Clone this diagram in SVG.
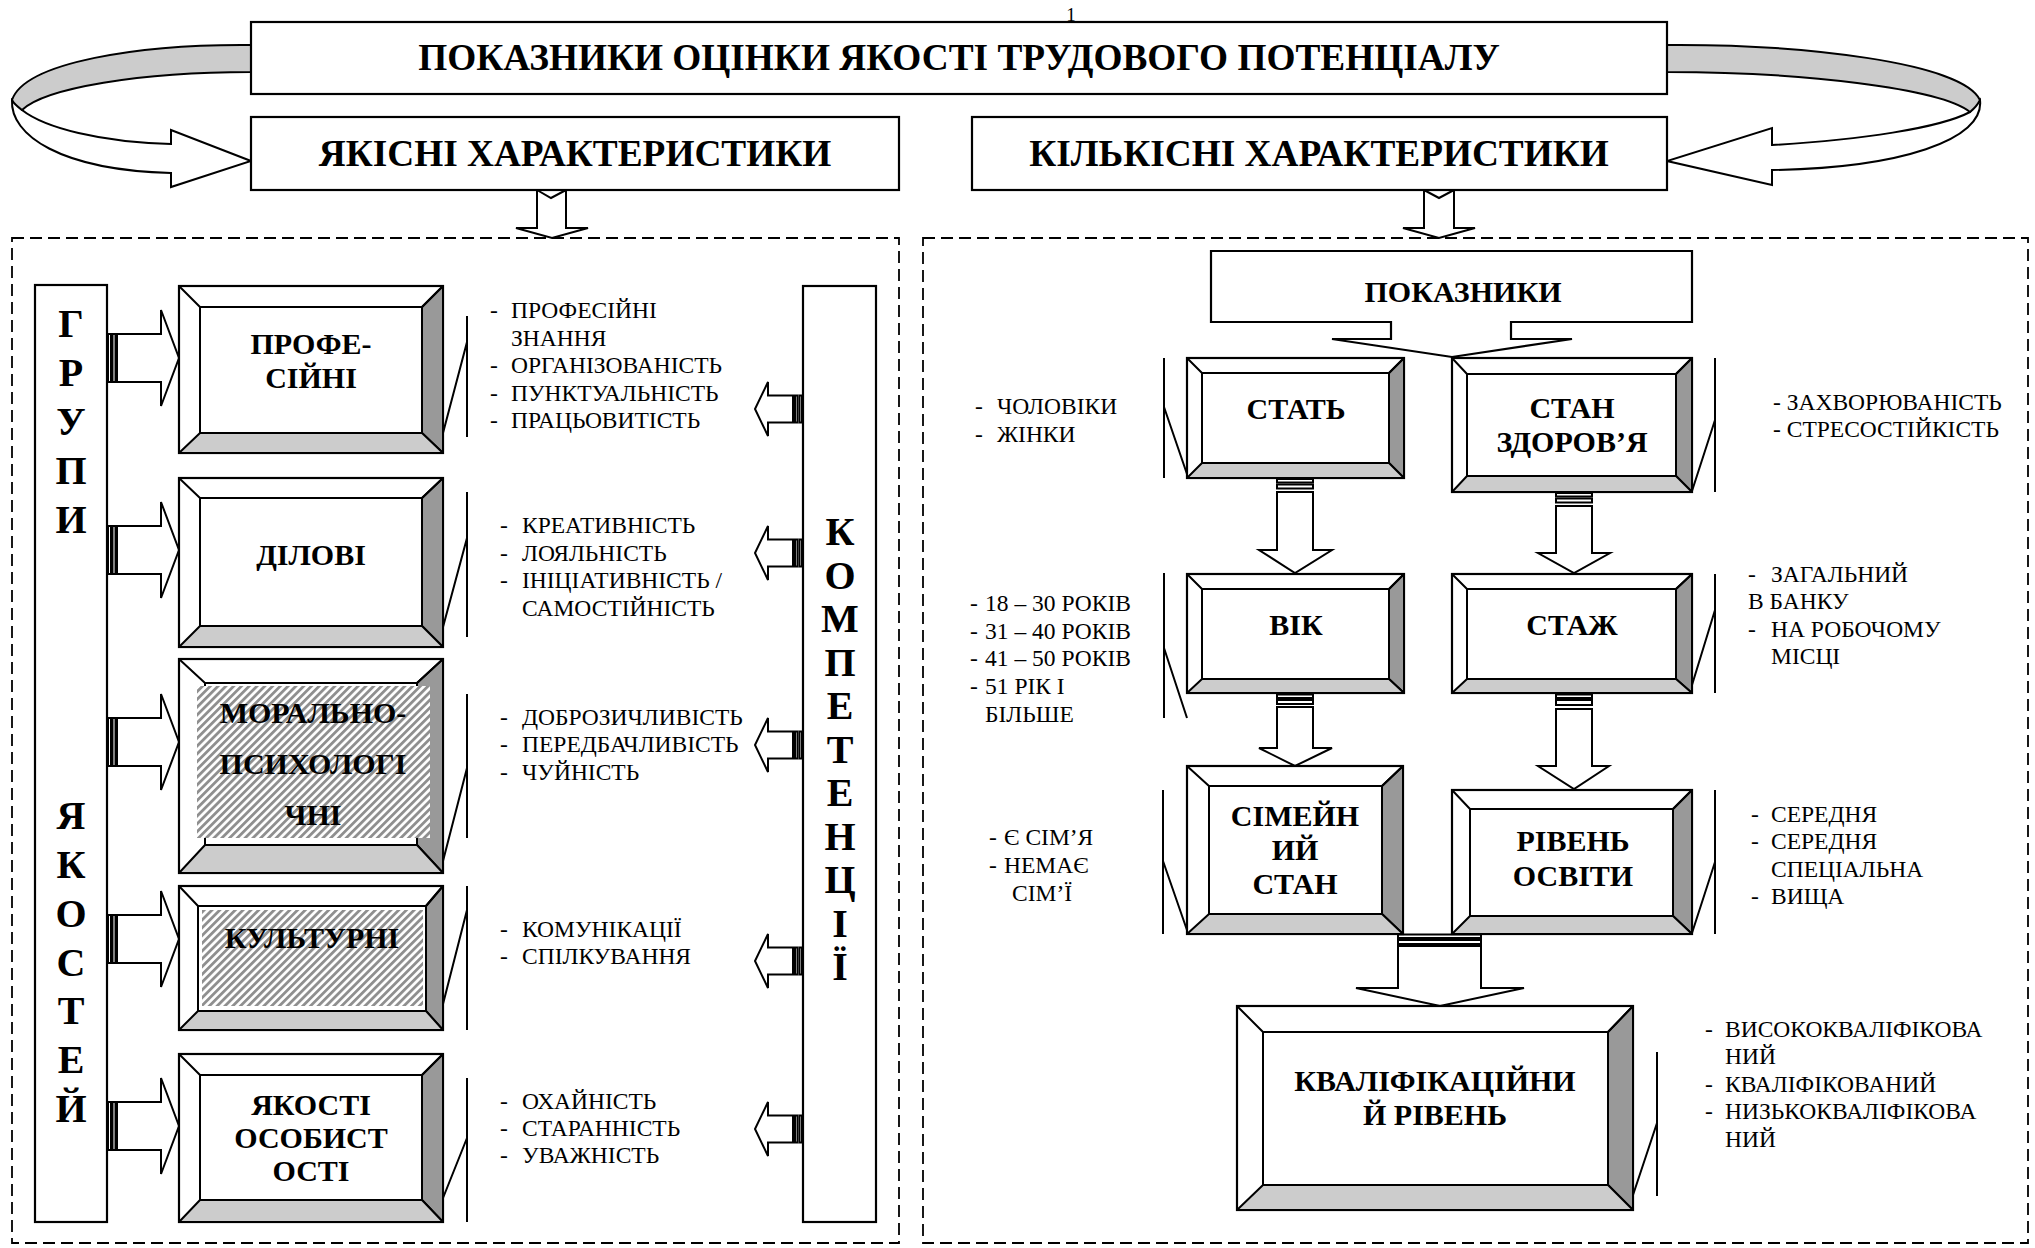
<svg xmlns="http://www.w3.org/2000/svg" width="2035" height="1248" viewBox="0 0 2035 1248">
<defs>
<style>
.box{fill:#fff;stroke:#000;stroke-width:2.2}
.inr{fill:none;stroke:#000;stroke-width:2}
.inw{fill:#fff;stroke:#000;stroke-width:2}
.bvr{fill:#999;stroke:#000;stroke-width:2;stroke-linejoin:round}
.bvb{fill:#ccc;stroke:#000;stroke-width:2;stroke-linejoin:round}
.ln{fill:none;stroke:#000;stroke-width:2}
.arr{fill:#fff;stroke:#000;stroke-width:2}
.rib{fill:#ccc;stroke:#000;stroke-width:2}
.dash{fill:none;stroke:#000;stroke-width:1.8;stroke-dasharray:12 6}
.hat{fill:url(#hatch)}
.h{font-family:"Liberation Serif","Times New Roman",serif;font-weight:bold;font-size:37.3px;text-anchor:middle}
.n{font-family:"Liberation Serif","Times New Roman",serif;font-weight:bold;font-size:30px;text-anchor:middle}
.v{font-family:"Liberation Serif","Times New Roman",serif;font-weight:bold;font-size:40px;text-anchor:middle}
.t{font-family:"Liberation Serif","Times New Roman",serif;font-size:23.5px}
</style>
<pattern id="hatch" width="5.5" height="5.5" patternUnits="userSpaceOnUse" patternTransform="rotate(45)">
<rect width="5.5" height="5.5" fill="#fff"/>
<rect width="2.8" height="5.5" fill="#8f8f8f"/>
</pattern>
</defs>
<rect width="2035" height="1248" fill="#fff"/>

<text x="1071" y="21" font-family="Liberation Serif, serif" font-size="19" text-anchor="middle">1</text>

<!-- panels -->
<rect class="dash" x="12" y="238" width="887" height="1005"/>
<rect class="dash" x="923" y="238" width="1105" height="1005"/>

<g id="connectors">
<!-- left ribbon -->
<path class="arr" d="M12,100 C10,135 60,170 171,173 L171,187 L251,161 L171,130 L171,144 C100,142 45,128 22,110 Z"/>
<path class="rib" d="M251,45 C140,44 25,62 12,100 C14,104 18,107 22,110 C45,88 140,72 251,72 Z"/>
<!-- right ribbon -->
<path class="arr" d="M1980,100 C1985,140 1900,168 1772,170 L1772,185 L1667,161 L1772,128 L1772,145 C1860,140 1940,128 1970,112 Z"/>
<path class="rib" d="M1667,45 C1800,44 1962,62 1980,100 C1978,104 1975,108 1970,112 C1940,88 1800,72 1667,72 Z"/>
<!-- top down arrows -->
<polygon class="arr" points="537,190 551,198 566,190 566,228 588,228 552,238 516,228 537,228"/>
<polygon class="arr" points="1424,190 1439,198 1454,190 1454,228 1475,228 1439,238 1403,228 1424,228"/>

<!-- ГРУПИ -> nodes -->
<g id="ga1"><rect class="arr" x="108" y="334" width="3" height="48"/><rect class="arr" x="112.5" y="334" width="3" height="48"/><polygon class="arr" points="117,334 161,334 161,310 179,358 161,406 161,382 117,382"/></g>
<g id="ga2"><rect class="arr" x="108" y="526" width="3" height="48"/><rect class="arr" x="112.5" y="526" width="3" height="48"/><polygon class="arr" points="117,526 161,526 161,502 179,550 161,598 161,574 117,574"/></g>
<g id="ga3"><rect class="arr" x="108" y="718" width="3" height="48"/><rect class="arr" x="112.5" y="718" width="3" height="48"/><polygon class="arr" points="117,718 161,718 161,694 179,742 161,790 161,766 117,766"/></g>
<g id="ga4"><rect class="arr" x="108" y="915" width="3" height="48"/><rect class="arr" x="112.5" y="915" width="3" height="48"/><polygon class="arr" points="117,915 161,915 161,891 179,939 161,987 161,963 117,963"/></g>
<g id="ga5"><rect class="arr" x="108" y="1102" width="3" height="48"/><rect class="arr" x="112.5" y="1102" width="3" height="48"/><polygon class="arr" points="117,1102 161,1102 161,1078 179,1126 161,1174 161,1150 117,1150"/></g>

<!-- КОМПЕТЕНЦІЇ -> lists -->
<g id="ka1"><rect class="arr" x="795" y="395.5" width="2.5" height="27"/><rect class="arr" x="799.5" y="395.5" width="2.5" height="27"/><polygon class="arr" points="793,395.5 768,395.5 768,382 755,409 768,436 768,422.5 793,422.5"/></g>
<g id="ka2"><rect class="arr" x="795" y="539.5" width="2.5" height="27"/><rect class="arr" x="799.5" y="539.5" width="2.5" height="27"/><polygon class="arr" points="793,539.5 768,539.5 768,526 755,553 768,580 768,566.5 793,566.5"/></g>
<g id="ka3"><rect class="arr" x="795" y="731.5" width="2.5" height="27"/><rect class="arr" x="799.5" y="731.5" width="2.5" height="27"/><polygon class="arr" points="793,731.5 768,731.5 768,718 755,745 768,772 768,758.5 793,758.5"/></g>
<g id="ka4"><rect class="arr" x="795" y="947.5" width="2.5" height="27"/><rect class="arr" x="799.5" y="947.5" width="2.5" height="27"/><polygon class="arr" points="793,947.5 768,947.5 768,934 755,961 768,988 768,974.5 793,974.5"/></g>
<g id="ka5"><rect class="arr" x="795" y="1115.5" width="2.5" height="27"/><rect class="arr" x="799.5" y="1115.5" width="2.5" height="27"/><polygon class="arr" points="793,1115.5 768,1115.5 768,1102 755,1129 768,1156 768,1142.5 793,1142.5"/></g>

<!-- right panel down arrows -->
<g id="da1"><rect class="arr" x="1277" y="479" width="36" height="3.5"/><rect class="arr" x="1277" y="484.5" width="36" height="4"/><polygon class="arr" points="1277,492 1313,492 1313,550 1332,550 1295,573 1259,550 1277,550"/></g>
<g id="da2"><rect class="arr" x="1556" y="493" width="36" height="3.5"/><rect class="arr" x="1556" y="498.5" width="36" height="4"/><polygon class="arr" points="1556,506 1592,506 1592,553 1610,553 1574,573 1538,553 1556,553"/></g>
<g id="da3"><rect class="arr" x="1277" y="694.5" width="36" height="3.5"/><rect class="arr" x="1277" y="700" width="36" height="4"/><polygon class="arr" points="1277,707 1313,707 1313,748 1332,748 1295,766 1259,748 1277,748"/></g>
<g id="da4"><rect class="arr" x="1556" y="694.5" width="36" height="3.5"/><rect class="arr" x="1556" y="700" width="36" height="5"/><polygon class="arr" points="1556,709 1592,709 1592,766 1609,766 1574,789 1538,766 1556,766"/></g>
<g id="da5"><rect class="arr" x="1398" y="934.5" width="83" height="3.5"/><rect class="arr" x="1398" y="940" width="83" height="4"/><polygon class="arr" points="1398,946 1481,946 1481,988 1524,988 1440,1006 1356,988 1398,988"/></g>

<!-- brackets -->
<path class="ln" d="M467,316 V437 M443,433 L467,342"/>
<path class="ln" d="M467,492 V637 M443,627 L467,538"/>
<path class="ln" d="M467,694 V838 M443,861 L467,768"/>
<path class="ln" d="M467,886 V1030 M443,1004 L467,910"/>
<path class="ln" d="M467,1078 V1222 M443,1198 L467,1138"/>
<path class="ln" d="M1164,358 V478 M1164,407 L1188,477"/>
<path class="ln" d="M1164,573 V718 M1164,648 L1187,718"/>
<path class="ln" d="M1163,790 V934 M1163,861 L1188,933"/>
<path class="ln" d="M1715,358 V492 M1715,420 L1692,491"/>
<path class="ln" d="M1715,574 V693 M1715,610 L1692,685"/>
<path class="ln" d="M1715,790 V934 M1715,862 L1692,933"/>
<path class="ln" d="M1657,1052 V1196 M1657,1123 L1633,1195"/>
</g>

<!-- header nodes -->
<g id="title"><rect class="box" x="251" y="22" width="1416" height="72"/><text class="h" x="959" y="70">ПОКАЗНИКИ ОЦІНКИ ЯКОСТІ ТРУДОВОГО ПОТЕНЦІАЛУ</text></g>
<g id="qual"><rect class="box" x="251" y="117" width="648" height="73"/><text class="h" x="575" y="166">ЯКІСНІ ХАРАКТЕРИСТИКИ</text></g>
<g id="quant"><rect class="box" x="972" y="117" width="695" height="73"/><text class="h" x="1319" y="166">КІЛЬКІСНІ ХАРАКТЕРИСТИКИ</text></g>

<!-- vertical boxes -->
<g id="groups"><rect class="box" x="35" y="285" width="72" height="937"/>
<text class="v" x="71" y="337">Г</text><text class="v" x="71" y="386">Р</text><text class="v" x="71" y="435">У</text><text class="v" x="71" y="484">П</text><text class="v" x="71" y="533">И</text>
<text class="v" x="71" y="829">Я</text><text class="v" x="71" y="878">К</text><text class="v" x="71" y="927">О</text><text class="v" x="71" y="976">С</text><text class="v" x="71" y="1024">Т</text><text class="v" x="71" y="1073">Е</text><text class="v" x="71" y="1122">Й</text>
</g>
<g id="competencies"><rect class="box" x="803" y="286" width="73" height="936"/>
<text class="v" x="840" y="545" font-size="38">К</text><text class="v" x="840" y="588.5" font-size="38">О</text><text class="v" x="840" y="632" font-size="38">М</text><text class="v" x="840" y="675.5" font-size="38">П</text><text class="v" x="840" y="719" font-size="38">Е</text><text class="v" x="840" y="762.5" font-size="38">Т</text><text class="v" x="840" y="806" font-size="38">Е</text><text class="v" x="840" y="849.5" font-size="38">Н</text><text class="v" x="840" y="893" font-size="38">Ц</text><text class="v" x="840" y="936.5" font-size="38">І</text><text class="v" x="840" y="980" font-size="38">Ї</text>
</g>

<!-- left nodes -->
<g id="prof">
<rect class="box" x="179" y="286" width="264" height="167"/>
<polygon class="bvr" points="443,286 443,453 422,433 422,307"/>
<polygon class="bvb" points="179,453 443,453 422,433 200,433"/>
<path class="ln" d="M179,286 L200,307 M443,286 L422,307"/>
<rect class="inr" x="200" y="307" width="222" height="126"/>
<text class="n" x="311" y="354">ПРОФЕ-</text><text class="n" x="311" y="388">СІЙНІ</text>
</g>
<g id="dilovi">
<rect class="box" x="179" y="478" width="264" height="169"/>
<polygon class="bvr" points="443,478 443,647 422,626 422,498"/>
<polygon class="bvb" points="179,647 443,647 422,626 200,626"/>
<path class="ln" d="M179,478 L200,498 M443,478 L422,498"/>
<rect class="inr" x="200" y="498" width="222" height="128"/>
<text class="n" x="311" y="565">ДІЛОВІ</text>
</g>
<g id="moral">
<rect class="box" x="179" y="659" width="264" height="214"/>
<polygon class="bvr" points="443,659 443,873 417,845 417,683"/>
<polygon class="bvb" points="179,873 443,873 417,845 205,845"/>
<path class="ln" d="M179,659 L205,683 M443,659 L417,683"/>
<rect class="inw" x="205" y="683" width="212" height="162"/>
<rect class="hat" x="197" y="686" width="233" height="152"/>
<text class="n" x="313" y="723">МОРАЛЬНО-</text><text class="n" x="313" y="774">ПСИХОЛОГІ</text><text class="n" x="313" y="825">ЧНІ</text>
</g>
<g id="cult">
<rect class="box" x="179" y="886" width="264" height="144"/>
<polygon class="bvr" points="443,886 443,1030 426,1011 426,906"/>
<polygon class="bvb" points="179,1030 443,1030 426,1011 198,1011"/>
<path class="ln" d="M179,886 L198,906 M443,886 L426,906"/>
<rect class="inw" x="198" y="906" width="228" height="105"/>
<rect class="hat" x="202" y="910" width="221" height="96"/>
<text class="n" x="312" y="948">КУЛЬТУРНІ</text>
</g>
<g id="personal">
<rect class="box" x="179" y="1054" width="264" height="168"/>
<polygon class="bvr" points="443,1054 443,1222 422,1200 422,1075"/>
<polygon class="bvb" points="179,1222 443,1222 422,1200 200,1200"/>
<path class="ln" d="M179,1054 L200,1075 M443,1054 L422,1075"/>
<rect class="inr" x="200" y="1075" width="222" height="125"/>
<text class="n" x="311" y="1115">ЯКОСТІ</text><text class="n" x="311" y="1148">ОСОБИСТ</text><text class="n" x="311" y="1181">ОСТІ</text>
</g>

<!-- left lists -->
<g id="list-prof" class="t">
<text x="490" y="318">-</text><text x="511" y="318">ПРОФЕСІЙНІ</text>
<text x="511" y="346">ЗНАННЯ</text>
<text x="490" y="373">-</text><text x="511" y="373">ОРГАНІЗОВАНІСТЬ</text>
<text x="490" y="401">-</text><text x="511" y="401">ПУНКТУАЛЬНІСТЬ</text>
<text x="490" y="428">-</text><text x="511" y="428">ПРАЦЬОВИТІСТЬ</text>
</g>
<g id="list-dil" class="t">
<text x="500" y="533">-</text><text x="522" y="533">КРЕАТИВНІСТЬ</text>
<text x="500" y="561">-</text><text x="522" y="561">ЛОЯЛЬНІСТЬ</text>
<text x="500" y="588">-</text><text x="522" y="588">ІНІЦІАТИВНІСТЬ /</text>
<text x="522" y="616">САМОСТІЙНІСТЬ</text>
</g>
<g id="list-moral" class="t">
<text x="500" y="725">-</text><text x="522" y="725">ДОБРОЗИЧЛИВІСТЬ</text>
<text x="500" y="752">-</text><text x="522" y="752">ПЕРЕДБАЧЛИВІСТЬ</text>
<text x="500" y="780">-</text><text x="522" y="780">ЧУЙНІСТЬ</text>
</g>
<g id="list-cult" class="t">
<text x="500" y="937">-</text><text x="522" y="937">КОМУНІКАЦІЇ</text>
<text x="500" y="964">-</text><text x="522" y="964">СПІЛКУВАННЯ</text>
</g>
<g id="list-pers" class="t">
<text x="500" y="1109">-</text><text x="522" y="1109">ОХАЙНІСТЬ</text>
<text x="500" y="1136">-</text><text x="522" y="1136">СТАРАННІСТЬ</text>
<text x="500" y="1163">-</text><text x="522" y="1163">УВАЖНІСТЬ</text>
</g>

<!-- right nodes -->
<g id="indicators">
<path class="box" d="M1211,251 H1692 V322 H1511 V339 H1572 L1452,357 L1332,339 H1391 V322 H1211 Z"/>
<text class="n" x="1463" y="302" font-size="34">ПОКАЗНИКИ</text>
</g>
<g id="sex">
<rect class="box" x="1187" y="358" width="217" height="120"/>
<polygon class="bvr" points="1404,358 1404,478 1389,463 1389,373"/>
<polygon class="bvb" points="1187,478 1404,478 1389,463 1202,463"/>
<path class="ln" d="M1187,358 L1202,373 M1404,358 L1389,373"/>
<rect class="inr" x="1202" y="373" width="187" height="90"/>
<text class="n" x="1296" y="419">СТАТЬ</text>
</g>
<g id="health">
<rect class="box" x="1452" y="358" width="240" height="134"/>
<polygon class="bvr" points="1692,358 1692,492 1676,476 1676,374"/>
<polygon class="bvb" points="1452,492 1692,492 1676,476 1467,476"/>
<path class="ln" d="M1452,358 L1467,374 M1692,358 L1676,374"/>
<rect class="inr" x="1467" y="374" width="209" height="102"/>
<text class="n" x="1572" y="418">СТАН</text><text class="n" x="1572" y="452">ЗДОРОВ’Я</text>
</g>
<g id="age">
<rect class="box" x="1187" y="574" width="217" height="119"/>
<polygon class="bvr" points="1404,574 1404,693 1389,679 1389,589"/>
<polygon class="bvb" points="1187,693 1404,693 1389,679 1202,679"/>
<path class="ln" d="M1187,574 L1202,589 M1404,574 L1389,589"/>
<rect class="inr" x="1202" y="589" width="187" height="90"/>
<text class="n" x="1296" y="635">ВІК</text>
</g>
<g id="tenure">
<rect class="box" x="1452" y="574" width="240" height="119"/>
<polygon class="bvr" points="1692,574 1692,693 1676,679 1676,589"/>
<polygon class="bvb" points="1452,693 1692,693 1676,679 1467,679"/>
<path class="ln" d="M1452,574 L1467,589 M1692,574 L1676,589"/>
<rect class="inr" x="1467" y="589" width="209" height="90"/>
<text class="n" x="1572" y="635">СТАЖ</text>
</g>
<g id="family">
<rect class="box" x="1187" y="766" width="216" height="168"/>
<polygon class="bvr" points="1403,766 1403,934 1382,914 1382,786"/>
<polygon class="bvb" points="1187,934 1403,934 1382,914 1209,914"/>
<path class="ln" d="M1187,766 L1209,786 M1403,766 L1382,786"/>
<rect class="inr" x="1209" y="786" width="173" height="128"/>
<text class="n" x="1295" y="826">СІМЕЙН</text><text class="n" x="1295" y="860">ИЙ</text><text class="n" x="1295" y="894">СТАН</text>
</g>
<g id="education">
<rect class="box" x="1452" y="790" width="240" height="144"/>
<polygon class="bvr" points="1692,790 1692,934 1673,916 1673,809"/>
<polygon class="bvb" points="1452,934 1692,934 1673,916 1470,916"/>
<path class="ln" d="M1452,790 L1470,809 M1692,790 L1673,809"/>
<rect class="inr" x="1470" y="809" width="203" height="107"/>
<text class="n" x="1573" y="851">РІВЕНЬ</text><text class="n" x="1573" y="886">ОСВІТИ</text>
</g>
<g id="qualification">
<rect class="box" x="1237" y="1006" width="396" height="204"/>
<polygon class="bvr" points="1633,1006 1633,1210 1608,1185 1608,1032"/>
<polygon class="bvb" points="1237,1210 1633,1210 1608,1185 1263,1185"/>
<path class="ln" d="M1237,1006 L1263,1032 M1633,1006 L1608,1032"/>
<rect class="inr" x="1263" y="1032" width="345" height="153"/>
<text class="n" x="1435" y="1091">КВАЛІФІКАЦІЙНИ</text><text class="n" x="1435" y="1125">Й РІВЕНЬ</text>
</g>

<!-- right lists -->
<g id="list-sex" class="t">
<text x="975" y="414">-</text><text x="997" y="414">ЧОЛОВІКИ</text>
<text x="975" y="442">-</text><text x="997" y="442">ЖІНКИ</text>
</g>
<g id="list-age" class="t">
<text x="970" y="611">-</text><text x="985" y="611">18 – 30 РОКІВ</text>
<text x="970" y="639">-</text><text x="985" y="639">31 – 40 РОКІВ</text>
<text x="970" y="666">-</text><text x="985" y="666">41 – 50 РОКІВ</text>
<text x="970" y="694">-</text><text x="985" y="694">51 РІК І</text>
<text x="985" y="722">БІЛЬШЕ</text>
</g>
<g id="list-family" class="t">
<text x="989" y="845">-</text><text x="1004" y="845">Є СІМ’Я</text>
<text x="989" y="873">-</text><text x="1004" y="873">НЕМАЄ</text>
<text x="1012" y="901">СІМ’Ї</text>
</g>
<g id="list-health" class="t">
<text x="1773" y="410">- ЗАХВОРЮВАНІСТЬ</text>
<text x="1773" y="437">- СТРЕСОСТІЙКІСТЬ</text>
</g>
<g id="list-tenure" class="t">
<text x="1748" y="582">-</text><text x="1771" y="582">ЗАГАЛЬНИЙ</text>
<text x="1748" y="609">В БАНКУ</text>
<text x="1748" y="637">-</text><text x="1771" y="637">НА РОБОЧОМУ</text>
<text x="1771" y="664">МІСЦІ</text>
</g>
<g id="list-edu" class="t">
<text x="1751" y="822">-</text><text x="1771" y="822">СЕРЕДНЯ</text>
<text x="1751" y="849">-</text><text x="1771" y="849">СЕРЕДНЯ</text>
<text x="1771" y="877">СПЕЦІАЛЬНА</text>
<text x="1751" y="904">-</text><text x="1771" y="904">ВИЩА</text>
</g>
<g id="list-qual" class="t">
<text x="1705" y="1037">-</text><text x="1725" y="1037">ВИСОКОКВАЛІФІКОВА</text>
<text x="1725" y="1064">НИЙ</text>
<text x="1705" y="1092">-</text><text x="1725" y="1092">КВАЛІФІКОВАНИЙ</text>
<text x="1705" y="1119">-</text><text x="1725" y="1119">НИЗЬКОКВАЛІФІКОВА</text>
<text x="1725" y="1147">НИЙ</text>
</g>
</svg>
